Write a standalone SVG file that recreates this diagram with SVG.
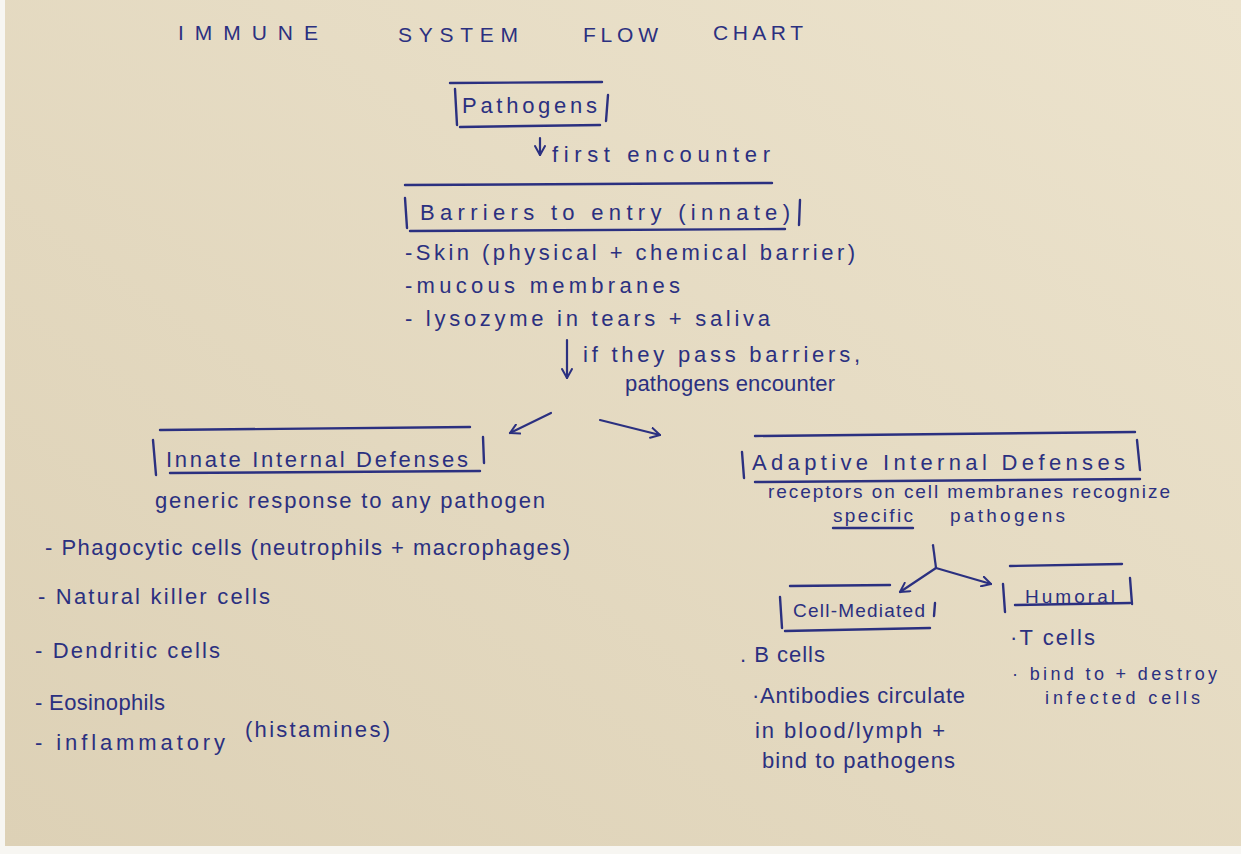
<svg xmlns="http://www.w3.org/2000/svg" width="1241" height="854" viewBox="0 0 1241 854">
<defs>
<linearGradient id="paper" x1="1" y1="0" x2="0" y2="1">
<stop offset="0" stop-color="#ece3cd"/>
<stop offset="1" stop-color="#ddd1b6"/>
</linearGradient>
<marker id="ah" viewBox="0 0 12 12" refX="10" refY="6" markerWidth="12" markerHeight="12" markerUnits="userSpaceOnUse" orient="auto">
<path d="M1,1 L10,6 L1,11" fill="none" stroke="#2b3080" stroke-width="2" stroke-linecap="round" stroke-linejoin="round"/>
</marker>
</defs>
<style>
text{font-family:"Liberation Sans",Arial,sans-serif;fill:#2b3080;font-size:21px;}
.t{font-size:21px;letter-spacing:2px;}
.b{font-size:22px;}
.m{font-size:19px;}
.s{font-size:19px;}
.x{font-size:18px;}
.ln{fill:none;stroke:#2b3080;stroke-width:2.4;stroke-linecap:round;}
.c{fill:none;stroke:#2b3080;stroke-width:2.2;stroke-linecap:round;}
</style>
<rect x="0" y="0" width="1241" height="854" fill="#f7f6f2"/>
<rect x="5" y="0" width="1236" height="846" fill="url(#paper)"/>

<g id="title">
<text class="t" x="178" y="40" textLength="142" lengthAdjust="spacing">IMMUNE</text>
<text class="t" x="398" y="42" textLength="122" lengthAdjust="spacing">SYSTEM</text>
<text class="t" x="583" y="42" textLength="77" lengthAdjust="spacing">FLOW</text>
<text class="t" x="713" y="40" textLength="92" lengthAdjust="spacing">CHART</text>
</g>

<g id="pathogens">
<path class="ln" d="M450,83 L602,82"/>
<path class="ln" d="M455,89 L457,125"/>
<path class="ln" d="M608,95 L606,121"/>
<path class="ln" d="M460,127 L600,125"/>
<text class="b" x="462" y="113" textLength="135" lengthAdjust="spacing">Pathogens</text>
</g>

<g id="barriers">
<path class="ln" d="M405,185 L772,183"/>
<path class="ln" d="M405,198 L407,228"/>
<path class="ln" d="M800,200 L799,225"/>
<path class="ln" d="M410,231 L785,229"/>
<text class="b" x="420" y="220" textLength="370" lengthAdjust="spacing">Barriers to entry (innate)</text>
<text class="b" x="405" y="260" textLength="450" lengthAdjust="spacing">-Skin (physical + chemical barrier)</text>
<text class="b" x="405" y="293" textLength="275" lengthAdjust="spacing">-mucous membranes</text>
<text class="b" x="405" y="326" textLength="365" lengthAdjust="spacing">- lysozyme in tears + saliva</text>
</g>

<g id="innate">
<path class="ln" d="M160,430 L470,427"/>
<path class="ln" d="M153,440 L156,475"/>
<path class="ln" d="M483,437 L484,463"/>
<path class="ln" d="M170,473 L480,471"/>
<text class="b" x="166" y="467" textLength="302" lengthAdjust="spacing">Innate Internal Defenses</text>
<text class="b" x="155" y="508" textLength="390" lengthAdjust="spacing">generic response to any pathogen</text>
<text class="b" x="45" y="555" textLength="525" lengthAdjust="spacing">- Phagocytic cells (neutrophils + macrophages)</text>
<text class="b" x="38" y="604" textLength="232" lengthAdjust="spacing">- Natural killer cells</text>
<text class="b" x="35" y="658" textLength="185" lengthAdjust="spacing">- Dendritic cells</text>
<text class="b" x="35" y="710" textLength="130" lengthAdjust="spacing">- Eosinophils</text>
<text class="b" x="35" y="750" textLength="190" lengthAdjust="spacing">- inflammatory</text>
<text class="b" x="245" y="737" textLength="145" lengthAdjust="spacing">(histamines)</text>
</g>

<g id="adaptive">
<path class="ln" d="M755,436 L1135,432"/>
<path class="ln" d="M742,452 L744,478"/>
<path class="ln" d="M1137,440 L1140,470"/>
<path class="ln" d="M755,482 L1140,479"/>
<text class="b" x="752" y="470" textLength="373" lengthAdjust="spacing">Adaptive Internal Defenses</text>
<text class="m" x="768" y="498" textLength="402" lengthAdjust="spacing">receptors on cell membranes recognize</text>
<text class="m" x="833" y="522" textLength="80" lengthAdjust="spacing">specific</text>
<path class="ln" d="M833,528 L913,528" stroke-width="1.8"/>
<text class="m" x="950" y="522" textLength="115" lengthAdjust="spacing">pathogens</text>
</g>

<g id="cell-mediated">
<path class="ln" d="M790,586 L890,585"/>
<path class="ln" d="M780,597 L782,628"/>
<path class="ln" d="M935,603 L934,616"/>
<path class="ln" d="M785,631 L930,628"/>
<text class="s" x="793" y="617" textLength="132" lengthAdjust="spacing">Cell-Mediated</text>
<text class="b" x="740" y="662" textLength="85" lengthAdjust="spacing">. B cells</text>
<text class="b" x="752" y="703" textLength="213" lengthAdjust="spacing">·Antibodies circulate</text>
<text class="b" x="755" y="738" textLength="190" lengthAdjust="spacing">in blood/lymph +</text>
<text class="b" x="762" y="768" textLength="193" lengthAdjust="spacing">bind to pathogens</text>
</g>

<g id="humoral">
<path class="ln" d="M1010,566 L1122,564"/>
<path class="ln" d="M1003,584 L1005,612"/>
<path class="ln" d="M1130,578 L1132,604"/>
<path class="ln" d="M1015,605 L1130,603"/>
<text class="s" x="1025" y="603" textLength="90" lengthAdjust="spacing">Humoral</text>
<text class="b" x="1010" y="645" textLength="85" lengthAdjust="spacing">·T cells</text>
<text class="x" x="1012" y="680" textLength="205" lengthAdjust="spacing">· bind to + destroy</text>
<text class="x" x="1045" y="704" textLength="155" lengthAdjust="spacing">infected cells</text>
</g>

<g id="connectors">
<path class="c" d="M540,138 L540,155" marker-end="url(#ah)"/>
<text class="b" x="552" y="162" textLength="218" lengthAdjust="spacing">first encounter</text>
<path class="c" d="M567,340 L567,378" marker-end="url(#ah)"/>
<text class="b" x="583" y="362" textLength="277" lengthAdjust="spacing">if they pass barriers,</text>
<text class="b" x="625" y="391" textLength="210" lengthAdjust="spacing">pathogens encounter</text>
<path class="c" d="M551,413 L510,433" marker-end="url(#ah)"/>
<path class="c" d="M600,420 L660,435" marker-end="url(#ah)"/>
<path class="c" d="M933,545 L936,568"/>
<path class="c" d="M936,568 L900,592" marker-end="url(#ah)"/>
<path class="c" d="M936,568 L991,584" marker-end="url(#ah)"/>
</g>
</svg>
